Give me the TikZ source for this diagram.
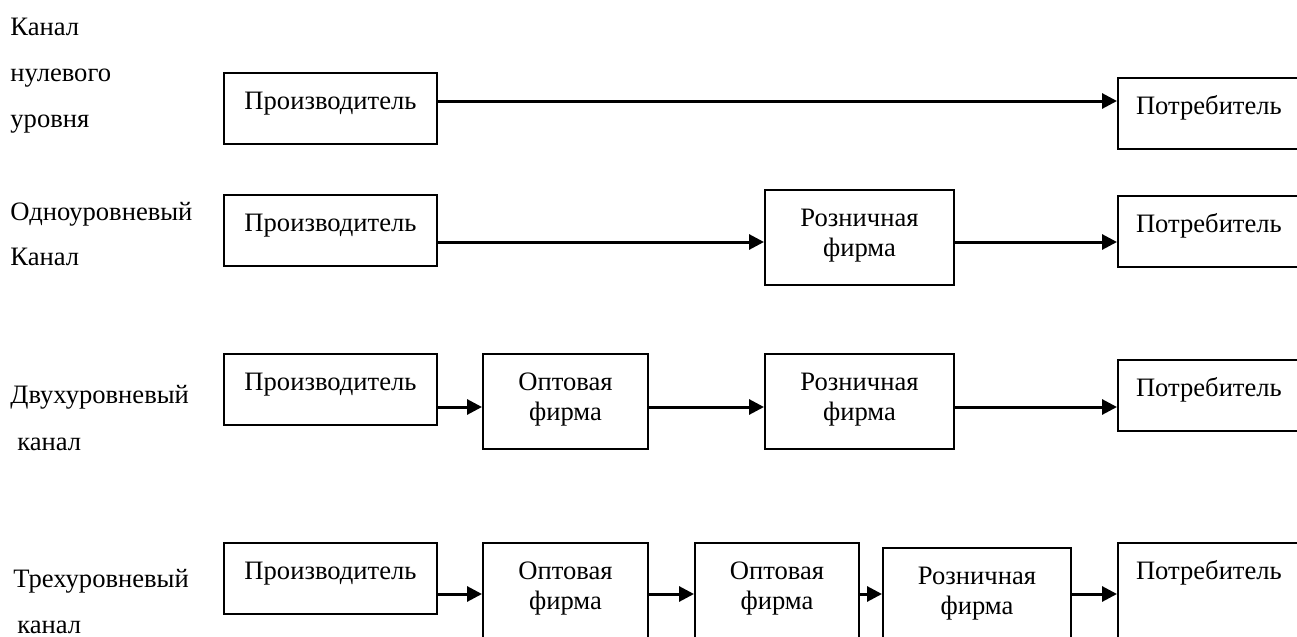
\documentclass[tikz,border=0pt]{standalone}
\usepackage{fontspec}
\setmainfont{Liberation Serif}
\usetikzlibrary{arrows.meta}

\begin{document}
\begin{tikzpicture}[x=0.5pt,y=-0.5pt,
    box/.style={draw,line width=1pt,inner xsep=0pt,inner ysep=0pt,anchor=north west,
        align=center,font=\fontsize{13.3}{15}\selectfont,text height=18pt,text depth=17.5pt},
    tall/.style={text depth=29.5pt},
    cut/.style={text depth=31pt},
    last/.style={align=left,inner xsep=9pt,text width=120pt},
    arr/.style={line width=1.5pt,-{Triangle[length=7.5pt,width=7.5pt]}},
    lbl/.style={anchor=base west,inner sep=0pt,font=\fontsize{13.3}{15}\selectfont}]
    \useasboundingbox (0,0) rectangle (1297,637);
    \clip (0,0) rectangle (1297,637);
    % row labels
    \node[lbl] (l1a) at (10,35) {Канал};
    \node[lbl] (l1b) at (10,81) {нулевого};
    \node[lbl] (l1c) at (10,127) {уровня};
    \node[lbl] (l2a) at (10,220) {Одноуровневый};
    \node[lbl] (l2b) at (10,265) {Канал};
    \node[lbl] (l3a) at (10,403) {Двухуровневый};
    \node[lbl] (l3b) at (17,450) {канал};
    \node[lbl] (l4a) at (13,587) {Трехуровневый};
    \node[lbl] (l4b) at (17,633) {канал};
    % arrow levels
    \coordinate (a1) at (0,101);
    \coordinate (a2) at (0,242);
    \coordinate (a3) at (0,407);
    \coordinate (a4) at (0,594);
    % zero level
    \node[box,text width=106.5pt] (p1) at (223,72) {Производитель};
    \node[box,last] (c1) at (1117,77) {Потребитель};
    \draw[arr] (p1.east |- a1) -- (c1.west |- a1);
    % one level
    \node[box,text width=106.5pt] (p2) at (223,194) {Производитель};
    \node[box,tall,text width=94.5pt] (r2) at (764,189) {Розничная\\фирма};
    \node[box,last] (c2) at (1117,195) {Потребитель};
    \draw[arr] (p2.east |- a2) -- (r2.west |- a2);
    \draw[arr] (r2.east |- a2) -- (c2.west |- a2);
    % two levels
    \node[box,text width=106.5pt] (p3) at (223,353) {Производитель};
    \node[box,tall,text width=82.5pt] (o3) at (482,353) {Оптовая\\фирма};
    \node[box,tall,text width=94.5pt] (r3) at (764,353) {Розничная\\фирма};
    \node[box,last] (c3) at (1117,359) {Потребитель};
    \draw[arr] (p3.east |- a3) -- (o3.west |- a3);
    \draw[arr] (o3.east |- a3) -- (r3.west |- a3);
    \draw[arr] (r3.east |- a3) -- (c3.west |- a3);
    % three levels
    \node[box,text width=106.5pt] (p4) at (223,542) {Производитель};
    \node[box,cut,text width=82.5pt] (o4) at (482,542) {Оптовая\\фирма};
    \node[box,cut,text width=82pt] (q4) at (694,542) {Оптовая\\фирма};
    \node[box,cut,text width=94pt] (r4) at (882,547) {Розничная\\фирма};
    \node[box,cut,last] (c4) at (1117,542) {Потребитель};
    \draw[arr] (p4.east |- a4) -- (o4.west |- a4);
    \draw[arr] (o4.east |- a4) -- (q4.west |- a4);
    \draw[arr] (q4.east |- a4) -- (r4.west |- a4);
    \draw[arr] (r4.east |- a4) -- (c4.west |- a4);
\end{tikzpicture}
\end{document}
